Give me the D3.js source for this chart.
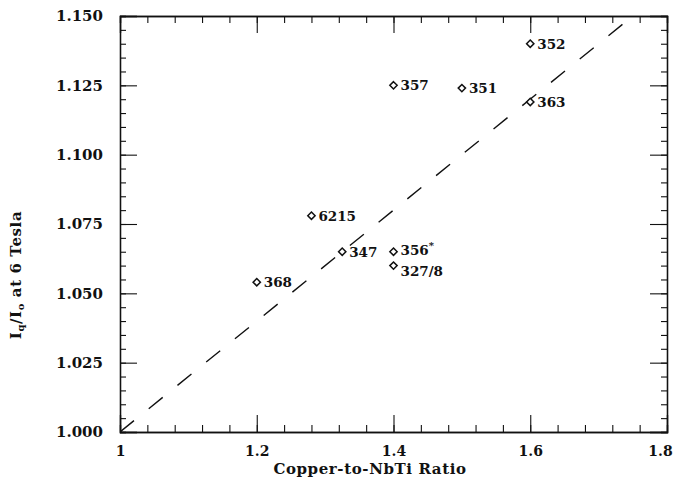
<!DOCTYPE html>
<html>
<head>
<meta charset="utf-8">
<script src="https://cdn.jsdelivr.net/npm/d3@7"></script>
<style>
  body { margin: 0; background: #fff; }
  svg text { font-family: "DejaVu Serif", "Liberation Serif", serif; fill: #111; }
</style>
</head>
<body>
<div id="container"></div>
<script>
/** DATA */
const ratio   = [1.20, 1.325, 1.28, 1.40, 1.40, 1.40, 1.50, 1.60, 1.60];
const current = [1.054, 1.065, 1.078, 1.065, 1.060, 1.125, 1.124, 1.119, 1.140];
const labels  = ["368", "347", "6215", "356", "327/8", "357", "351", "363", "352"];
const starred = [false, false, false, true, false, false, false, false, false];
const xTicks = [1, 1.2, 1.4, 1.6, 1.8];
const xTickLabels = ["1", "1.2", "1.4", "1.6", "1.8"];
const yTicks = [1.000, 1.025, 1.050, 1.075, 1.100, 1.125, 1.150];
// dashed trend line end points
const fitX = [1.0, 1.8];
const fitY = [1.0, 1.16];

/** CONSTANTS */
const width = 676, height = 479,
  margin = { top: 16, bottom: 47, left: 120, right: 9 };

const svg = d3.select("#container")
  .append("svg")
  .attr("width", width)
  .attr("height", height);

const x = d3.scaleLinear().domain([1, 1.8]).range([margin.left, width - margin.right]);
const y = d3.scaleLinear().domain([1, 1.15]).range([height - margin.bottom, margin.top]);

const plot = svg.append("g");

// clip for the dashed line
svg.append("clipPath").attr("id", "clip")
  .append("rect")
  .attr("x", x(1)).attr("y", y(1.15))
  .attr("width", x(1.8) - x(1)).attr("height", y(1) - y(1.15));

// axes: ticks pointing in, mirrored on all four sides
const xMinor = d3.range(1, 1.8001, 0.04);
const yMinor = d3.range(1, 1.1501, 0.005);

function addAxis(axis, transform) {
  return plot.append("g").attr("transform", transform).call(axis)
    .call(g => g.select(".domain").attr("stroke", "#111").attr("stroke-width", 1.3))
    .call(g => g.selectAll(".tick line").attr("stroke", "#111").attr("stroke-width", 1.1));
}

// minor ticks
addAxis(d3.axisBottom(x).tickValues(xMinor).tickSize(-7).tickFormat(""), `translate(0,${y(1)})`);
addAxis(d3.axisTop(x).tickValues(xMinor).tickSize(-7).tickFormat(""), `translate(0,${y(1.15)})`);
addAxis(d3.axisLeft(y).tickValues(yMinor).tickSize(-6).tickFormat(""), `translate(${x(1)},0)`);
addAxis(d3.axisRight(y).tickValues(yMinor).tickSize(-6).tickFormat(""), `translate(${x(1.8)},0)`);

// major ticks
const xb = addAxis(d3.axisBottom(x).tickValues(xTicks).tickSize(-17).tickPadding(8)
  .tickFormat((d, i) => xTickLabels[i]), `translate(0,${y(1)})`);
xb.selectAll(".tick text")
  .attr("y", 24).attr("dy", 0)
  .style("font-size", "14px").style("font-weight", "bold").attr("fill", "#111");
// last label sits inside the window edge
xb.selectAll(".tick text").filter(d => d === 1.8).attr("dx", -7);
addAxis(d3.axisTop(x).tickValues(xTicks).tickSize(-17).tickFormat(""), `translate(0,${y(1.15)})`);
const yl = addAxis(d3.axisLeft(y).tickValues(yTicks).tickSize(-17).tickPadding(17)
  .tickFormat(d3.format(".3f")), `translate(${x(1)},0)`);
yl.selectAll(".tick text").style("font-size", "15px").style("font-weight", "bold").attr("fill", "#111");
addAxis(d3.axisRight(y).tickValues(yTicks).tickSize(-17).tickFormat(""), `translate(${x(1.8)},0)`);

// dashed fit line
const line = d3.line().x(d => x(d[0])).y(d => y(d[1]));
svg.append("path")
  .datum(d3.zip(fitX, fitY))
  .attr("clip-path", "url(#clip)")
  .attr("d", line)
  .attr("fill", "none")
  .attr("stroke", "#111")
  .attr("stroke-width", 1.4)
  .attr("stroke-dasharray", "18,19");

// diamond markers
const pts = d3.range(ratio.length);
const diamond = d3.symbol().type(d3.symbolDiamond2).size(34);
svg.selectAll(".pt")
  .data(pts)
  .join("path")
  .attr("class", "pt")
  .attr("transform", i => `translate(${x(ratio[i])},${y(current[i])})`)
  .attr("d", diamond)
  .attr("fill", "#fff")
  .attr("stroke", "#111")
  .attr("stroke-width", 1.5);

// the two labels at 1.4 / ~1.06 are pushed apart a little, as in the original
const nudge = { "356": -2, "327/8": 5 };
const lab = svg.selectAll(".lab")
  .data(pts)
  .join("text")
  .attr("class", "lab")
  .attr("x", i => x(ratio[i]) + 7)
  .attr("y", i => y(current[i]) + 5 + (nudge[labels[i]] || 0))
  .style("font-size", "13.5px")
  .style("font-weight", "bold")
  .text(i => labels[i]);
lab.filter(i => starred[i]).append("tspan")
  .attr("dy", "-6")
  .style("font-size", "10px")
  .text("*");

// axis titles
svg.append("text")
  .attr("x", 370)
  .attr("y", 474)
  .attr("text-anchor", "middle")
  .style("font-size", "15px")
  .style("font-weight", "bold")
  .style("letter-spacing", "0.6px")
  .text("Copper-to-NbTi Ratio");

const yt = svg.append("text")
  .attr("transform", `translate(21,${275}) rotate(-90)`)
  .attr("text-anchor", "middle")
  .style("font-size", "15px")
  .style("font-weight", "bold")
  .style("letter-spacing", "0.6px");
yt.append("tspan").text("I");
yt.append("tspan").attr("dy", 3).style("font-size", "10px").text("q");
yt.append("tspan").attr("dy", -3).text("/I");
yt.append("tspan").attr("dy", 3).style("font-size", "10px").text("o");
yt.append("tspan").attr("dy", -3).text(" at 6 Tesla");
</script>
</body>
</html>
